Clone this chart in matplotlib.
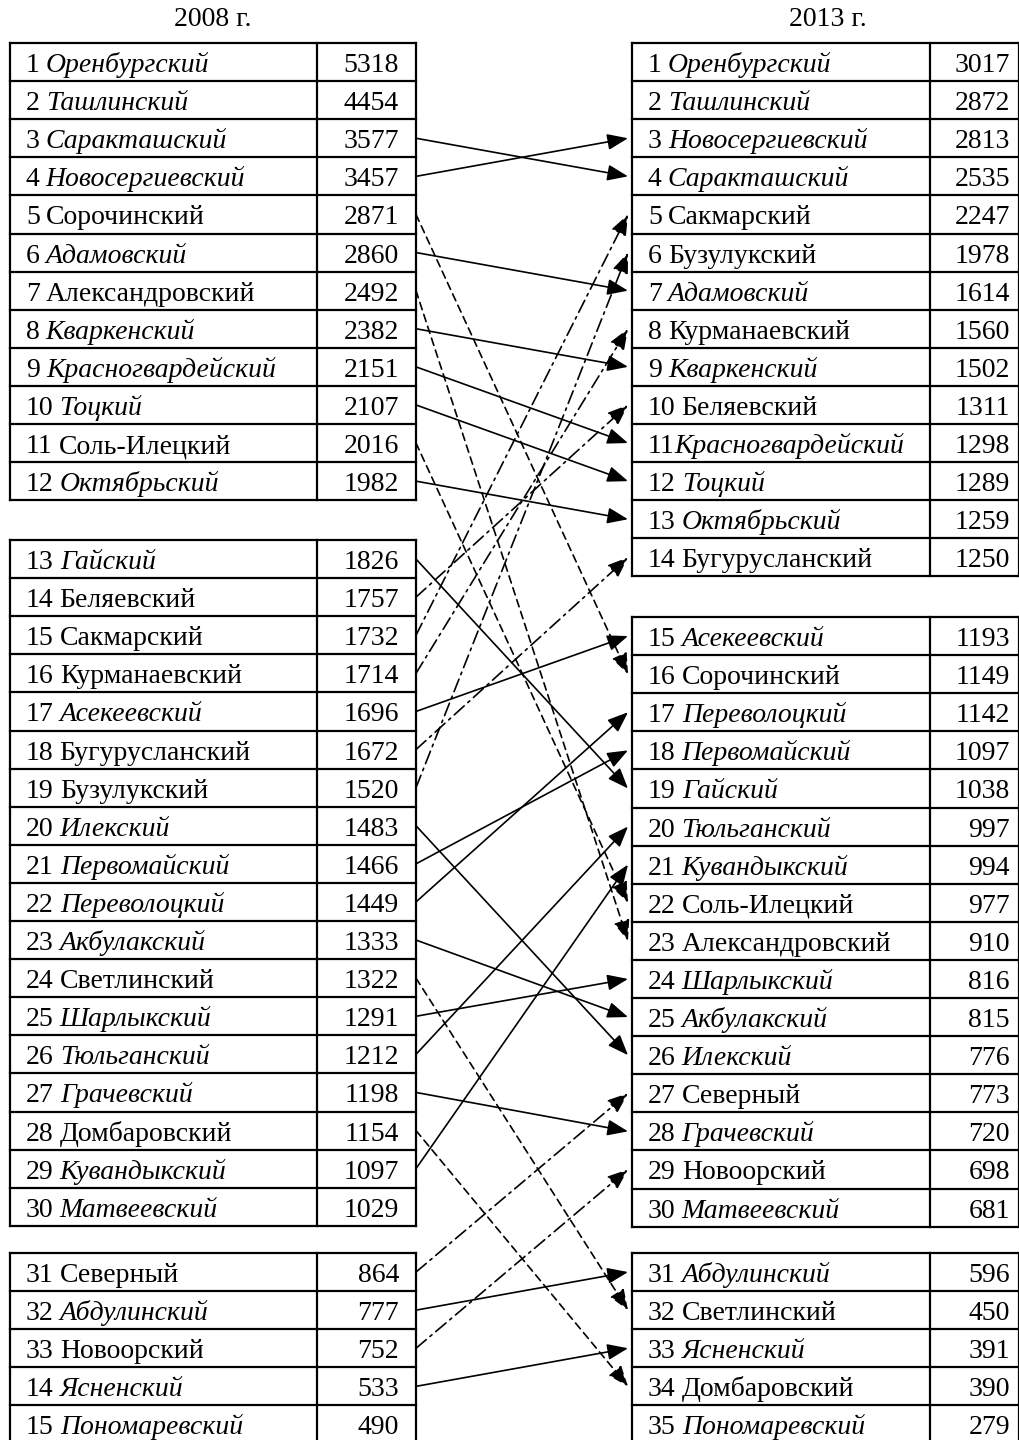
import matplotlib
matplotlib.use("Agg")
import matplotlib.pyplot as plt

# 2008 ranking (left), number labels as printed in the source
left_nums = [str(i) for i in range(1, 34)] + ["14", "15"]
left_names = ["Оренбургский", "Ташлинский", "Саракташский", "Новосергиевский",
              "Сорочинский", "Адамовский", "Александровский", "Кваркенский",
              "Красногвардейский", "Тоцкий", "Соль-Илецкий", "Октябрьский",
              "Гайский", "Беляевский", "Сакмарский", "Курманаевский",
              "Асекеевский", "Бугурусланский", "Бузулукский", "Илекский",
              "Первомайский", "Переволоцкий", "Акбулакский", "Светлинский",
              "Шарлыкский", "Тюльганский", "Грачевский", "Домбаровский",
              "Кувандыкский", "Матвеевский", "Северный", "Абдулинский",
              "Новоорский", "Ясненский", "Пономаревский"]
left_vals = [5318, 4454, 3577, 3457, 2871, 2860, 2492, 2382, 2151, 2107, 2016, 1982,
             1826, 1757, 1732, 1714, 1696, 1672, 1520, 1483, 1466, 1449, 1333, 1322,
             1291, 1212, 1198, 1154, 1097, 1029, 864, 777, 752, 533, 490]

# 2013 ranking (right)
right_nums = [str(i) for i in range(1, 36)]
right_names = ["Оренбургский", "Ташлинский", "Новосергиевский", "Саракташский",
               "Сакмарский", "Бузулукский", "Адамовский", "Курманаевский",
               "Кваркенский", "Беляевский", "Красногвардейский", "Тоцкий",
               "Октябрьский", "Бугурусланский", "Асекеевский", "Сорочинский",
               "Переволоцкий", "Первомайский", "Гайский", "Тюльганский",
               "Кувандыкский", "Соль-Илецкий", "Александровский", "Шарлыкский",
               "Акбулакский", "Илекский", "Северный", "Грачевский", "Новоорский",
               "Матвеевский", "Абдулинский", "Светлинский", "Ясненский",
               "Домбаровский", "Пономаревский"]
right_vals = [3017, 2872, 2813, 2535, 2247, 1978, 1614, 1560, 1502, 1311, 1298, 1289,
              1259, 1250, 1193, 1149, 1142, 1097, 1038, 997, 994, 977, 910, 816, 815,
              776, 773, 720, 698, 681, 596, 450, 391, 390, 279]

# districts printed in italics
italic = {"Оренбургский", "Ташлинский", "Саракташский", "Новосергиевский",
          "Адамовский", "Кваркенский", "Красногвардейский", "Тоцкий", "Октябрьский",
          "Гайский", "Асекеевский", "Илекский", "Первомайский", "Переволоцкий",
          "Акбулакский", "Шарлыкский", "Тюльганский", "Грачевский", "Кувандыкский",
          "Матвеевский", "Абдулинский", "Ясненский", "Пономаревский"}

left_groups = [12, 18, 5]
right_groups = [14, 16, 5]
left_tops = [43, 540, 1253]
right_tops = [43, 617, 1253]
rh = 38.1

W, H = 1020, 1440
fig = plt.figure(figsize=(W / 100, H / 100), dpi=100)
ax = fig.add_axes([0, 0, 1, 1])
ax.set_xlim(0, W)
ax.set_ylim(H, 0)
ax.axis("off")
renderer = fig.canvas.get_renderer()

FONT = "Liberation Serif"
FS = 20


def row_centers(groups, tops):
    ys = []
    for n, t in zip(groups, tops):
        ys += [t + (i + 0.5) * rh for i in range(n)]
    return ys


def draw_table(x0, xd, x1, groups, tops, nums, names, vals, vpad, nospace=()):
    lw = 1.6
    for n, t in zip(groups, tops):
        b = t + n * rh
        for xx in (x0, xd, x1):
            ax.plot([xx, xx], [t, b], color="black", lw=lw, solid_capstyle="projecting")
        for i in range(n + 1):
            ax.plot([x0, x1], [t + i * rh, t + i * rh], color="black", lw=lw,
                    solid_capstyle="projecting")
    ys = row_centers(groups, tops)
    for k, (y, num, name, v) in enumerate(zip(ys, nums, names, vals)):
        yb = y + 10
        tx = x0 + 16
        t = ax.text(tx, yb, num, family=FONT, fontsize=FS, va="baseline", ha="left")
        w = t.get_window_extent(renderer).width
        gap = 0 if k in nospace else 6
        ax.text(tx + w + gap, yb, name, family=FONT, fontsize=FS, va="baseline",
                ha="left", style="italic" if name in italic else "normal")
        ax.text(x1 - vpad, yb, str(v), family=FONT, fontsize=FS, va="baseline", ha="right")
    return ys


ly = draw_table(10, 317, 416, left_groups, left_tops, left_nums, left_names, left_vals, 17)
ry = draw_table(632, 930, 1019, right_groups, right_tops, right_nums, right_names,
                right_vals, 9, nospace=(10,))

ax.text(213, 20, "2008 г.", family=FONT, fontsize=FS, ha="center", va="center")
ax.text(828, 20, "2013 г.", family=FONT, fontsize=FS, ha="center", va="center")

# arrows between the ranks
for i, name in enumerate(left_names):
    j = right_names.index(name)
    if i == j:
        continue
    if name in italic:
        ls = "-"
    elif j > i:
        ls = (0, (4.5, 3))
    else:
        ls = (0, (8, 3, 1.5, 3))
    ax.annotate("", xy=(628, ry[j]), xytext=(416, ly[i]),
                arrowprops=dict(arrowstyle="-|>,head_length=0.9,head_width=0.35",
                                lw=1.2, color="black", linestyle=ls,
                                shrinkA=0, shrinkB=0, mutation_scale=14))

fig.savefig("out.png", dpi=100)
